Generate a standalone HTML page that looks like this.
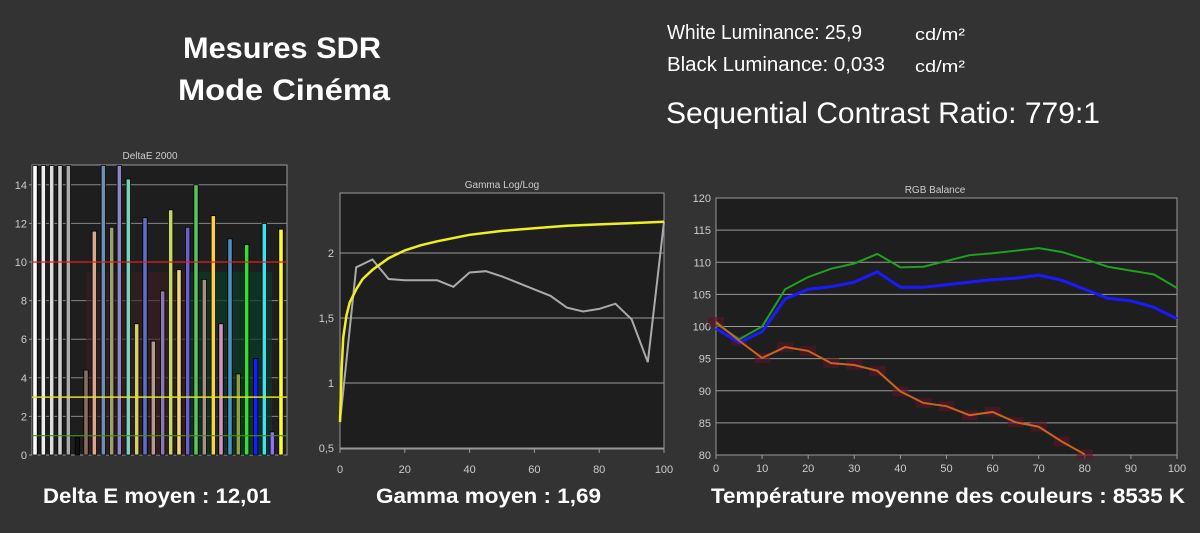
<!DOCTYPE html>
<html><head><meta charset="utf-8"><style>
html,body{margin:0;padding:0;background:#333;}
svg{display:block;font-family:"Liberation Sans",sans-serif;}
</style></head><body>
<svg id="s" width="1200" height="533" viewBox="0 0 1200 533" xmlns="http://www.w3.org/2000/svg">
<rect width="1200" height="533" fill="#333"/>
<text x="282" y="58" fill="#fff" font-size="30" font-weight="bold" text-anchor="middle" textLength="198" lengthAdjust="spacingAndGlyphs">Mesures SDR</text>
<text x="284" y="100" fill="#fff" font-size="30" font-weight="bold" text-anchor="middle" textLength="212" lengthAdjust="spacingAndGlyphs">Mode Cinéma</text>
<text x="667" y="39" fill="#fff" font-size="20" textLength="195" lengthAdjust="spacingAndGlyphs">White Luminance: 25,9</text>
<text x="915" y="40" fill="#fff" font-size="17" textLength="50" lengthAdjust="spacingAndGlyphs">cd/m²</text>
<text x="667" y="71" fill="#fff" font-size="20" textLength="218" lengthAdjust="spacingAndGlyphs">Black Luminance: 0,033</text>
<text x="915" y="72" fill="#fff" font-size="17" textLength="50" lengthAdjust="spacingAndGlyphs">cd/m²</text>
<text x="666" y="123" fill="#fff" font-size="30" textLength="434" lengthAdjust="spacingAndGlyphs">Sequential Contrast Ratio:  779:1</text>

<text x="150" y="159" fill="#ccc" font-size="10" text-anchor="middle">DeltaE 2000</text>
<rect x="32" y="165" width="255" height="290" fill="#1e1e1e" stroke="#999"/>
<g id="g1"></g>
<text x="43" y="503" fill="#fff" font-size="21" font-weight="bold" textLength="228" lengthAdjust="spacingAndGlyphs">Delta E moyen : 12,01</text>

<text x="502" y="188" fill="#ccc" font-size="10" text-anchor="middle">Gamma Log/Log</text>
<rect x="340" y="193" width="324" height="256" fill="#1e1e1e" stroke="#999"/>
<g id="g2"></g>
<text x="376" y="503" fill="#fff" font-size="21" font-weight="bold" textLength="225" lengthAdjust="spacingAndGlyphs">Gamma moyen : 1,69</text>

<text x="935" y="193" fill="#ccc" font-size="10" text-anchor="middle">RGB Balance</text>
<rect x="716" y="198" width="461" height="257" fill="#1e1e1e" stroke="#999"/>
<g id="g3"></g>
<text x="711" y="503" fill="#fff" font-size="21" font-weight="bold" textLength="474" lengthAdjust="spacingAndGlyphs">Température moyenne des couleurs : 8535 K</text>
</svg>
<script>
const NS="http://www.w3.org/2000/svg";
function el(g,t,a,txt){const e=document.createElementNS(NS,t);for(const k in a)e.setAttribute(k,a[k]);if(txt!==undefined)e.textContent=txt;document.getElementById(g).appendChild(e);return e;}
(function(){
 const y=v=>455-v*19.3;
 for(let v=2;v<=14;v+=2){el('g1','line',{x1:32,x2:287,y1:y(v),y2:y(v),stroke:'#888','stroke-width':1});}
 for(let v=0;v<=14;v+=2){el('g1','text',{x:27,y:y(v)+4,fill:'#ccc','font-size':11,'text-anchor':'end'},v);el('g1','line',{x1:29,x2:32,y1:y(v),y2:y(v),stroke:'#999'});}
 el('g1','rect',{x:86,y:y(9.5),width:100,height:y(0)-y(9.5),fill:'#3a1c22',opacity:0.6});
 el('g1','rect',{x:187,y:y(9.5),width:40,height:y(0)-y(9.5),fill:'#0a3a28',opacity:0.7});
 el('g1','rect',{x:227,y:y(9.5),width:45,height:y(0)-y(9.5),fill:'#0a3a28',opacity:0.7});
 const bars=[[105,15,'#fff'],[130,15,'#eee'],[155,15,'#ddd'],[180,15,'#ccc'],[205,15,'#aaa'],[232,0.9,'#111'],[258,4.4,'#8a6d5f'],[283,11.6,'#d9a88e'],[310,15,'#6d8fb5'],[335,11.8,'#9aa070'],[358,15,'#8d86c4'],[385,14.3,'#7fd0b8'],[410,6.8,'#d8d060'],[435,12.3,'#5d6fc8'],[460,5.9,'#b59a8a'],[488,8.5,'#8a78b0'],[512,12.7,'#c8d868'],[537,9.6,'#f0d870'],[563,11.8,'#6a60c8'],[588,14,'#5ac060'],[613,9.1,'#a89080'],[640,12.4,'#ffd040'],[663,6.8,'#d890c0'],[690,11.2,'#4a90c0'],[715,4.2,'#90a040'],[740,10.9,'#30e030'],[767,5.0,'#1020ff'],[793,12.0,'#40e0f0'],[817,1.2,'#9070ff'],[843,11.7,'#ffff20']];
 bars.forEach(b=>{const x=b[0]/3-2.2;const t=Math.max(y(Math.min(b[1],15.04)),165);el('g1','rect',{x:x,y:t,width:4.4,height:455-t,fill:b[2],stroke:'#000','stroke-width':0.8});});
 el('g1','line',{x1:32,x2:287,y1:y(10),y2:y(10),stroke:'#e02020','stroke-width':1.3});
 el('g1','line',{x1:32,x2:287,y1:y(3),y2:y(3),stroke:'#e0e020','stroke-width':1.5});
 el('g1','line',{x1:32,x2:287,y1:y(1),y2:y(1),stroke:'#4a8a20','stroke-width':1.2});
})();
(function(){
 const y=v=>448-(v-0.5)*130, x=p=>340+3.24*p;
 [[2,'2'],[1.5,'1,5'],[1,'1'],[0.5,'0,5']].forEach(a=>{el('g2','line',{x1:340,x2:664,y1:y(a[0]),y2:y(a[0]),stroke:'#999'});el('g2','text',{x:334,y:y(a[0])+4,fill:'#ccc','font-size':11,'text-anchor':'end'},a[1]);});
 for(let p=0;p<=100;p+=20){el('g2','text',{x:x(p),y:473,fill:'#ccc','font-size':11,'text-anchor':'middle'},p);el('g2','line',{x1:x(p),x2:x(p),y1:449,y2:453,stroke:'#999'});}
 const gy=[0.7,1.89,1.95,1.8,1.79,1.79,1.79,1.74,1.85,1.86,1.82,1.77,1.72,1.67,1.58,1.55,1.57,1.61,1.49,1.16,2.24];
 el('g2','polyline',{points:gy.map((v,i)=>x(i*5)+','+y(v)).join(' '),fill:'none',stroke:'#aaa','stroke-width':2});
 const yl=[[0,0.7],[0.5,1.1],[1,1.35],[2,1.52],[3,1.62],[5,1.72],[7,1.8],[10,1.87],[15,1.96],[20,2.02],[25,2.06],[30,2.09],[40,2.14],[50,2.17],[60,2.19],[70,2.21],[80,2.22],[90,2.23],[100,2.24]];
 el('g2','polyline',{points:yl.map(a=>x(a[0])+','+y(a[1])).join(' '),fill:'none',stroke:'#f0f020','stroke-width':2.5});
})();
(function(){
 const y=v=>455-(v-80)*6.425, x=p=>716+4.61*p;
 for(let v=80;v<=120;v+=5){el('g3','line',{x1:716,x2:1177,y1:y(v),y2:y(v),stroke:'#999'});el('g3','text',{x:711,y:y(v)+4,fill:'#ccc','font-size':11,'text-anchor':'end'},v);}
 for(let p=0;p<=100;p+=10){el('g3','text',{x:x(p),y:472,fill:'#ccc','font-size':11,'text-anchor':'middle'},p);el('g3','line',{x1:x(p),x2:x(p),y1:455,y2:459,stroke:'#999'});}
 const G=[100.5,98,100,105.8,107.7,109,109.8,111.3,109.2,109.3,110.2,111.1,111.4,111.8,112.2,111.6,110.5,109.3,108.7,108.1,106];
 const B=[99.7,97.5,99.2,104.3,105.8,106.2,106.9,108.5,106.1,106.1,106.5,106.9,107.3,107.5,108,107.2,105.8,104.4,104,103,101.2];
 const R=[100.7,97.8,95.1,96.8,96.2,94.3,94,93.1,89.9,88.1,87.6,86.2,86.7,85.1,84.4,82.1,80.1];
 R.forEach((v,i)=>el('g3','rect',{x:x(i*5)-8,y:y(v)-5,width:16,height:10,fill:'#5a1428',opacity:0.6}));
 const pl=(a,c,w)=>el('g3','polyline',{points:a.map((v,i)=>x(i*5)+','+y(v)).join(' '),fill:'none',stroke:c,'stroke-width':w});
 pl(G,'#20a020',2);pl(B,'#1a1aff',3);pl(R,'#c8641e',2);
})();
</script>
</body></html>
